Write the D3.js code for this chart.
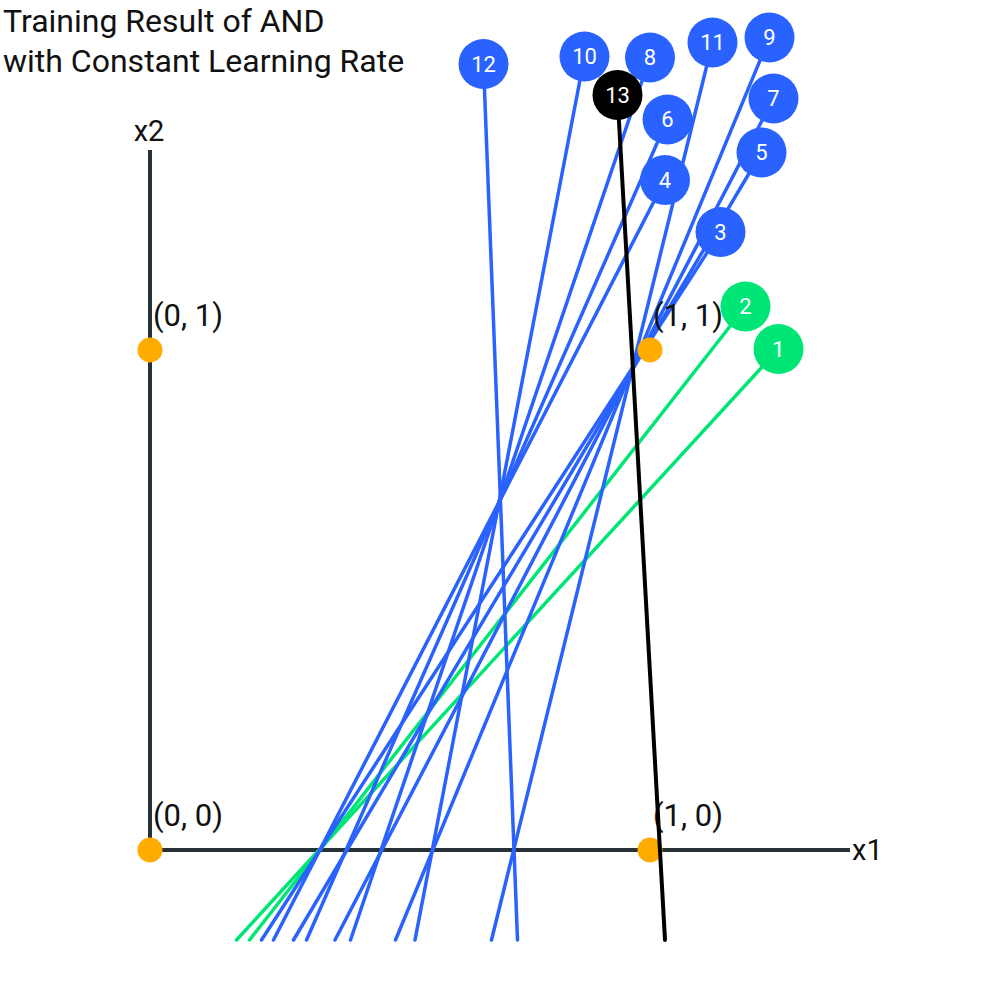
<!DOCTYPE html>
<html>
<head>
<meta charset="utf-8">
<script src="https://d3js.org/d3.v7.min.js"></script>
<style>
  html, body { margin: 0; padding: 0; background: #fff; }
  svg { display: block; font-family: Roboto, "Noto Sans", sans-serif; }
</style>
</head>
<body>
<svg id="chart" width="1000" height="1000"></svg>
<script>
// ---- data ----
const titleLines = ["Training Result of AND", "with Constant Learning Rate"];
const iterations = [1, 2, 3, 4, 5, 6, 7, 8, 9, 10, 11, 12, 13];
const phase = ["early", "early", "mid", "mid", "mid", "mid", "mid", "mid", "mid", "mid", "mid", "mid", "final"];
const lineStartX2 = -0.18;
const lineStartX1 = [0.173, 0.199, 0.223, 0.247, 0.287, 0.313, 0.370, 0.401, 0.491, 0.530, 0.683, 0.735, 1.030];
const lineEndX1 = [1.257, 1.191, 1.141, 1.030, 1.223, 1.035, 1.247, 1.000, 1.239, 0.869, 1.125, 0.667, 0.935];
const lineEndX2 = [1.002, 1.087, 1.236, 1.340, 1.395, 1.461, 1.503, 1.585, 1.625, 1.587, 1.615, 1.572, 1.510];
const inputX1 = [0, 1, 0, 1];
const inputX2 = [0, 0, 1, 1];
const inputLabels = ["(0, 0)", "(1, 0)", "(0, 1)", "(1, 1)"];
const axisMax = 1.4;
const axisNames = ["x1", "x2"];

// ---- scales ----
const x = d3.scaleLinear().domain([0, 1]).range([150, 650]);
const y = d3.scaleLinear().domain([0, 1]).range([850, 350]);
const color = d3.scaleOrdinal().domain(["early", "mid", "final"]).range(["#00e676", "#2962ff", "#000000"]);

const svg = d3.select("#chart");

// title
svg.append("g").selectAll("text").data(titleLines).join("text")
  .attr("x", 3).attr("y", (d, i) => 32 + i * 40)
  .attr("font-size", 32).attr("fill", "#111")
  .text(d => d);

// axes
const axisColor = "#263238";
svg.append("line").attr("x1", x(0)).attr("y1", y(0)).attr("x2", x(axisMax)).attr("y2", y(0))
  .attr("stroke", axisColor).attr("stroke-width", 4);
svg.append("line").attr("x1", x(0)).attr("y1", y(0)).attr("x2", x(0)).attr("y2", y(axisMax))
  .attr("stroke", axisColor).attr("stroke-width", 4);
svg.append("text").attr("x", x(axisMax) + 2).attr("y", y(0) + 10)
  .attr("font-size", 29).attr("fill", "#111").text(axisNames[0]);
svg.append("text").attr("x", x(0) - 1).attr("y", y(axisMax) - 9).attr("text-anchor", "middle")
  .attr("font-size", 29).attr("fill", "#111").text(axisNames[1]);

const recs = iterations.map((it, i) => ({
  it, phase: phase[i],
  sx: lineStartX1[i], sy: lineStartX2,
  ex: lineEndX1[i], ey: lineEndX2[i]
}));

// boundary lines (all but final)
svg.append("g").selectAll("line").data(recs.filter(d => d.phase !== "final")).join("line")
  .attr("x1", d => x(d.sx)).attr("y1", d => y(d.sy))
  .attr("x2", d => x(d.ex)).attr("y2", d => y(d.ey))
  .attr("stroke", d => color(d.phase)).attr("stroke-width", 3.5)
  .attr("stroke-linecap", "round");

// input points
const pts = inputX1.map((v, i) => ({ x1: v, x2: inputX2[i], label: inputLabels[i] }));
svg.append("g").selectAll("circle").data(pts).join("circle")
  .attr("cx", d => x(d.x1)).attr("cy", d => y(d.x2)).attr("r", 12.5)
  .attr("fill", "#ffab00");
svg.append("g").selectAll("text").data(pts).join("text")
  .attr("x", d => x(d.x1) + 3).attr("y", d => y(d.x2) - 24)
  .attr("font-size", 31).attr("fill", "#111").text(d => d.label);

// final line
svg.append("g").selectAll("line").data(recs.filter(d => d.phase === "final")).join("line")
  .attr("x1", d => x(d.sx)).attr("y1", d => y(d.sy))
  .attr("x2", d => x(d.ex)).attr("y2", d => y(d.ey))
  .attr("stroke", d => color(d.phase)).attr("stroke-width", 4)
  .attr("stroke-linecap", "round");

// iteration markers
const marks = svg.append("g").selectAll("g").data(recs).join("g")
  .attr("transform", d => `translate(${x(d.ex)},${y(d.ey)})`);
marks.append("circle").attr("r", 25).attr("fill", d => color(d.phase));
marks.append("text").attr("text-anchor", "middle").attr("dy", "0.36em")
  .attr("font-size", 22).attr("fill", "#fff").text(d => d.it);
</script>
</body>
</html>
